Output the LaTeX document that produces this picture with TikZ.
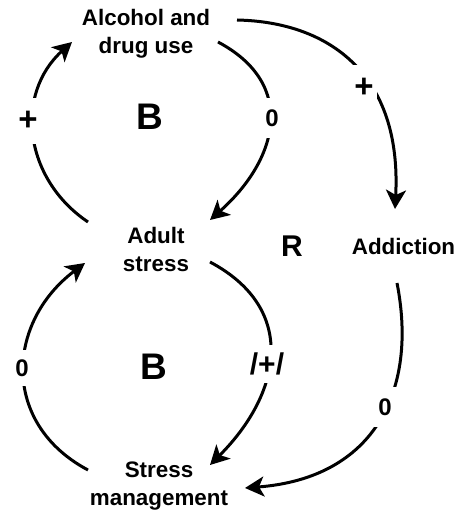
\documentclass[tikz,border=0pt]{standalone}
\usepackage{fontspec}
\setmainfont{Liberation Sans}
\usetikzlibrary{arrows.meta}
\begin{document}
\begin{tikzpicture}[x=1pt,y=1pt,
  var/.style={font=\fontsize{22.4}{28}\selectfont\bfseries, align=center, inner sep=0pt},
  loopname/.style={font=\fontsize{37}{40}\selectfont\bfseries, inner sep=0pt},
  link/.style={line width=3pt, -{Stealth[length=19pt,width=20pt,inset=5pt]}},
  polarity/.style={fill=white, inner sep=0pt, font=\fontsize{24}{26}\selectfont\bfseries},
  plussign/.style={polarity, font=\fontsize{33}{36}\selectfont\bfseries},
]
\useasboundingbox (0,0) rectangle (463,514);

% variables
\node[var] (alcohol) at (146,480) {Alcohol and\\drug use};
\node[var] (adult)   at (156,265) {Adult\\stress};
\node[var] (addict)  at (403.5,268) {Addiction};
\node[var] (manage)  at (159,28)  {Stress\\management};

% loop identifiers
\node[loopname] (bal1) at (150,397) {B};
\node[loopname] (bal2) at (154,147) {B};
\node[loopname, font=\fontsize{30}{32}\selectfont\bfseries] (reinf) at (292,268) {R};

% end points of the causal links
\coordinate (s1) at (88,292);  \coordinate (e1) at (72,472);
\coordinate (s2) at (218,472); \coordinate (e2) at (210,294);
\coordinate (s3) at (237,494); \coordinate (e3) at (395,305);
\coordinate (s4) at (88,44);   \coordinate (e4) at (85,251);
\coordinate (s5) at (210,252); \coordinate (e5) at (210,49);
\coordinate (s6) at (397,231); \coordinate (e6) at (245,26);

% causal links
\draw[link] (s1) to[out=146,in=222,looseness=1.1] (e1);
\draw[link] (s2) to[out=-28,in=41.6,looseness=1.3] (e2);
\draw[link] (s3) .. controls +(93,-2) and +(7,134) .. (e3);
\draw[link] (s4) to[out=152,in=217,looseness=1.22] (e4);
\draw[link] (s5) to[out=-28,in=45,looseness=1.27] (e5);
\draw[link] (s6) .. controls +(21,-107) and +(130,10) .. (e6);

% link polarities
\node[plussign, minimum width=26pt, minimum height=46pt] (pol1) at (28,393) {+};
\node[polarity, minimum width=22pt, minimum height=40pt] (pol2) at (272,396) {0};
\node[plussign, minimum width=26pt, minimum height=46pt] (pol3) at (364,426) {+};
\node[polarity, minimum width=24pt, minimum height=36pt] (pol4) at (22,146) {0};
\node[polarity, font=\fontsize{30}{32}\selectfont\bfseries, minimum height=38pt] (pol5) at (267,150) {/+/};
\node[polarity, minimum width=24pt, minimum height=40pt] (pol6) at (385,107) {0};
\end{tikzpicture}
\end{document}
